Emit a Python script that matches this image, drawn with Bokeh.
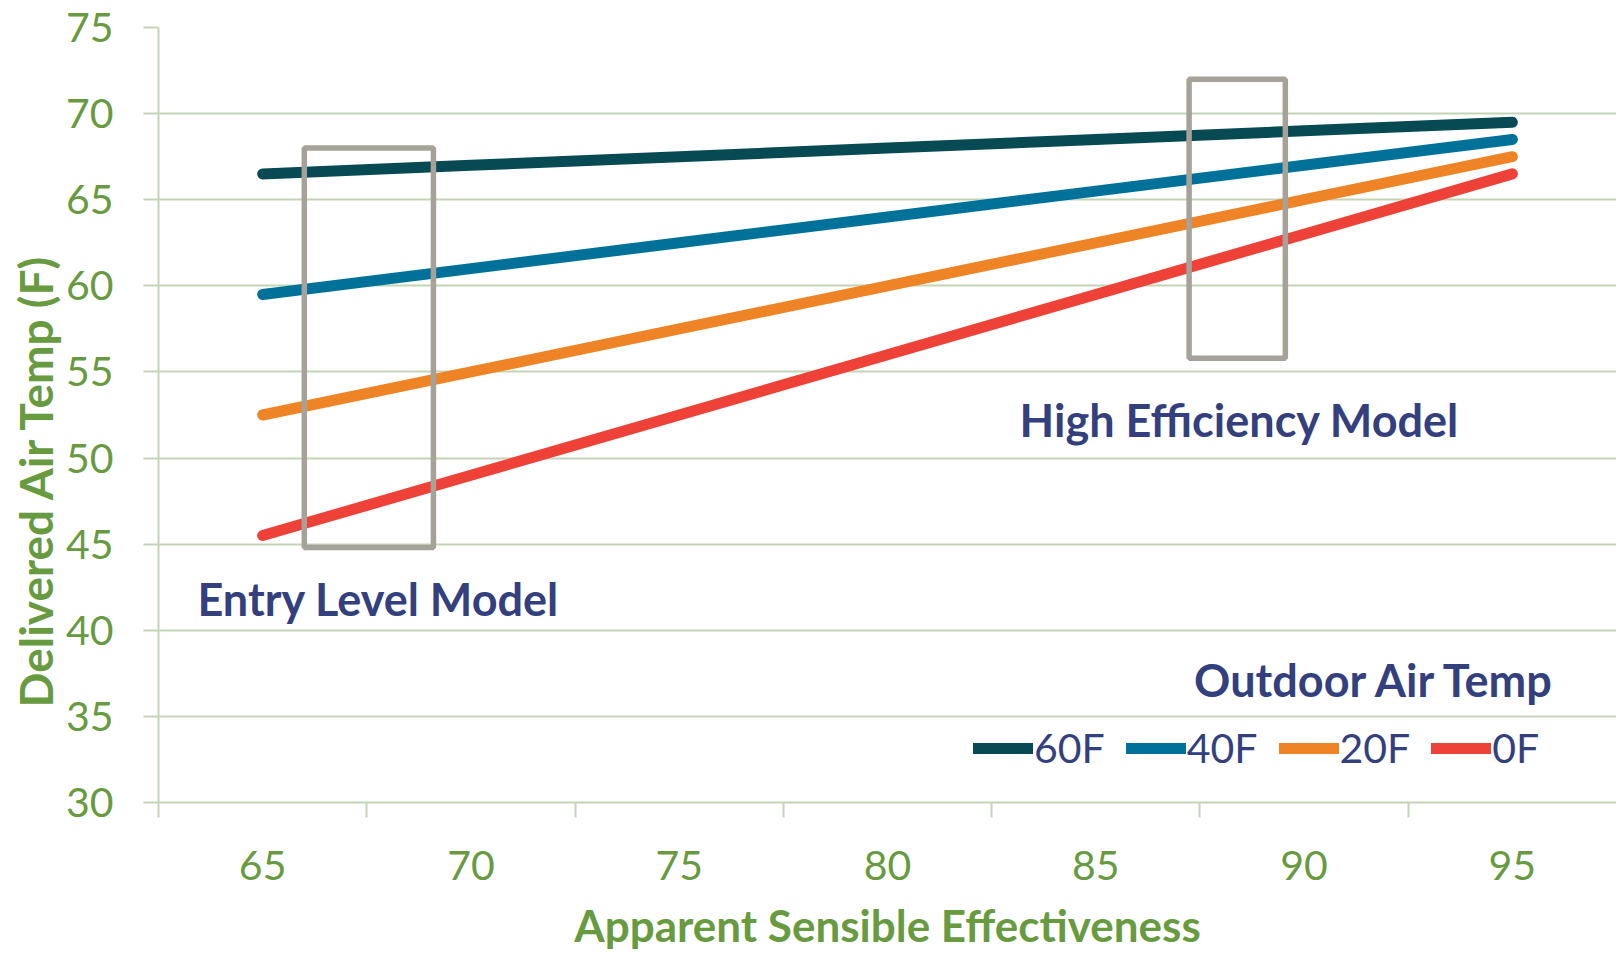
from bokeh.plotting import figure
from bokeh.models import Range1d, FixedTicker, Label, Legend, LegendItem, Title
from bokeh.embed import file_html
from bokeh.resources import INLINE

# ---- data ----
effectiveness = [65, 70, 75, 80, 85, 90, 95]
temp_60F = [66.5, 67.0, 67.5, 68.0, 68.5, 69.0, 69.5]
temp_40F = [59.5, 61.0, 62.5, 64.0, 65.5, 67.0, 68.5]
temp_20F = [52.5, 55.0, 57.5, 60.0, 62.5, 65.0, 67.5]
temp_0F = [45.5, 49.0, 52.5, 56.0, 59.5, 63.0, 66.5]
series_labels = ["60F", "40F", "20F", "0F"]
y_ticks = [30, 35, 40, 45, 50, 55, 60, 65, 70, 75]
x_ticks = [65, 70, 75, 80, 85, 90, 95]
category_edges = [62.5, 67.5, 72.5, 77.5, 82.5, 87.5, 92.5]

# ---- styles ----
GREEN = "#689A3F"
BLUE = "#343F7E"
GRID = "#C3D5B5"
BOX = "#A6A29A"
colors = ["#074A53", "#00729A", "#EE8426", "#EE4137"]
FONT = "Lato"

p = figure(width=1616, height=955, x_range=Range1d(62.5, 97.5), y_range=Range1d(30, 75),
           output_backend="svg", toolbar_location=None,
           min_border_left=158, min_border_right=0, min_border_top=27, min_border_bottom=153)
p.outline_line_color = None
p.background_fill_color = "white"
p.border_fill_color = "white"

p.xgrid.visible = False
p.ygrid.grid_line_color = GRID
p.ygrid.grid_line_width = 2
p.ygrid.ticker = FixedTicker(ticks=y_ticks)

xa = p.xaxis[0]
xa.ticker = FixedTicker(ticks=x_ticks, minor_ticks=category_edges)
xa.major_tick_line_color = None
xa.major_tick_out = 15
xa.major_tick_in = 0
xa.minor_tick_line_color = GRID
xa.minor_tick_line_width = 2
xa.minor_tick_out = 15
xa.minor_tick_in = 0
xa.axis_line_color = GRID
xa.axis_line_width = 2
xa.major_label_text_font = FONT
xa.major_label_text_font_size = "41px"
xa.major_label_text_color = GREEN
xa.major_label_standoff = 33
xa.axis_label = "Apparent Sensible Effectiveness"
xa.axis_label_text_font = FONT
xa.axis_label_text_font_size = "44px"
xa.axis_label_text_font_style = "bold"
xa.axis_label_text_color = GREEN
xa.axis_label_standoff = 16

ya = p.yaxis[0]
ya.ticker = FixedTicker(ticks=y_ticks)
ya.major_tick_line_color = GRID
ya.major_tick_line_width = 2
ya.major_tick_out = 15
ya.major_tick_in = 0
ya.minor_tick_line_color = None
ya.axis_line_color = GRID
ya.axis_line_width = 2
ya.major_label_text_font = FONT
ya.major_label_text_font_size = "41px"
ya.major_label_text_color = GREEN
ya.major_label_standoff = 30

series = [temp_60F, temp_40F, temp_20F, temp_0F]
renderers = []
for vals, c in zip(series, colors):
    r = p.line(effectiveness, vals, line_width=11, line_color=c, line_cap="round", line_join="round")
    renderers.append(r)

# highlight boxes
p.quad(left=[66.0, 87.24], right=[69.1, 89.55], bottom=[44.8, 55.8], top=[68.0, 72.0],
       fill_color=None, line_color=BOX, line_width=5.5)

def add_label(text, x, y, color):
    p.add_layout(Label(x=x, y=y, text=text, text_font=FONT, text_font_size="45px",
                       text_font_style="bold", text_color=color, text_align="center",
                       text_baseline="alphabetic"))

add_label("Entry Level Model", 67.78, 41.8, BLUE)
add_label("High Efficiency Model", 88.45, 52.2, BLUE)
add_label("Outdoor Air Temp", 91.71, 37.1, BLUE)

# y-axis title as a side title
p.add_layout(Title(text="Delivered Air Temp (F)", align="left", offset=95,
                   text_font=FONT, text_font_size="46px", text_font_style="bold",
                   text_color=GREEN, standoff=0), "left")

legend = Legend(items=[LegendItem(label=lab, renderers=[r]) for lab, r in zip(series_labels, renderers)],
                orientation="horizontal", location=(815, 30),
                glyph_width=60, glyph_height=40, label_height=40, label_standoff=1, spacing=21,
                padding=0, margin=0, border_line_color=None, background_fill_alpha=0,
                label_text_font=FONT, label_text_font_size="41px", label_text_color=BLUE)
p.add_layout(legend)

open("out.html", "w").write(file_html(p, INLINE))
